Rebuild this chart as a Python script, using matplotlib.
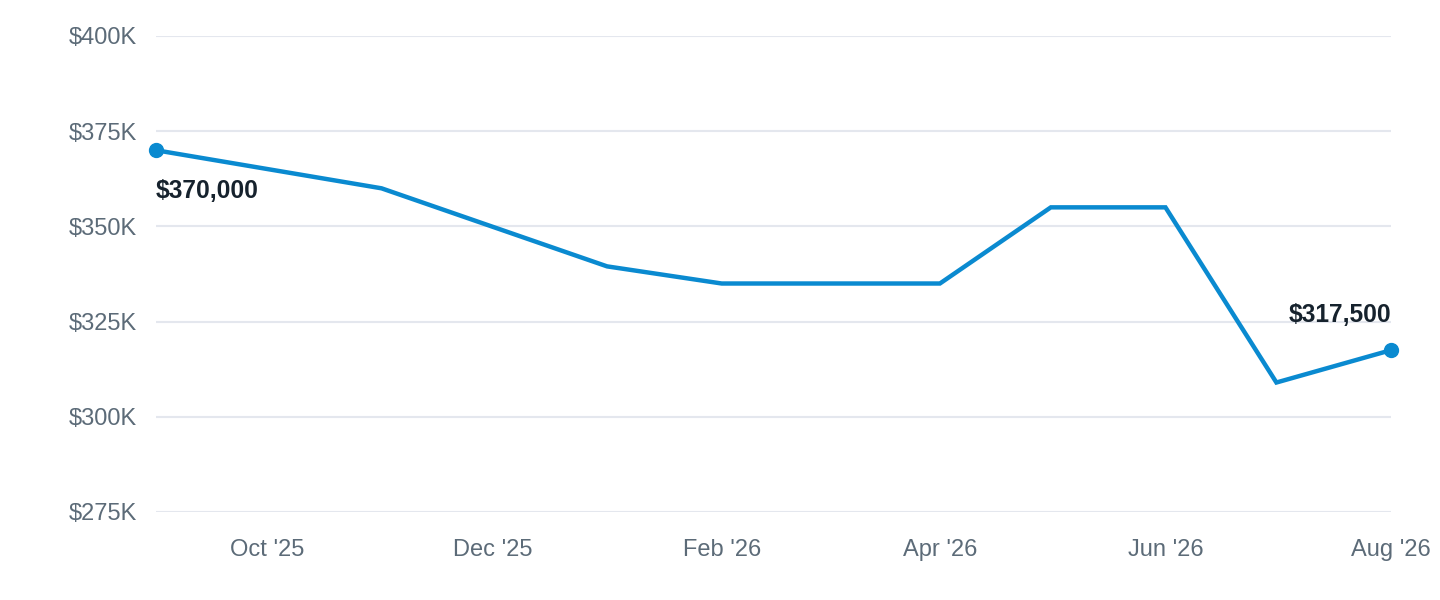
import numpy as np
import matplotlib
matplotlib.use("Agg")
import matplotlib.pyplot as plt
import matplotlib.dates as mdates
from datetime import date

plt.rcParams['font.family'] = ['Liberation Sans', 'DejaVu Sans']

# Data
months = [date(2025, 9, 1), date(2025, 11, 1), date(2026, 1, 1), date(2026, 2, 1),
          date(2026, 4, 1), date(2026, 5, 1), date(2026, 6, 1), date(2026, 7, 1),
          date(2026, 8, 1)]
prices = [370000, 360000, 339500, 335000, 335000, 355000, 355000, 309000, 317500]

tick_dates = [date(2025, 10, 1), date(2025, 12, 1), date(2026, 2, 1),
              date(2026, 4, 1), date(2026, 6, 1), date(2026, 8, 1)]
tick_labels = ["Oct '25", "Dec '25", "Feb '26", "Apr '26", "Jun '26", "Aug '26"]
y_ticks = [275000, 300000, 325000, 350000, 375000, 400000]

line_col = '#0a8ad0'
grid_col = '#e4e7ee'
tick_col = '#5c6b78'
label_col = '#16222d'

fig = plt.figure(figsize=(14.4, 6), dpi=100)
ax = fig.add_axes([0.1083, 0.1467, 0.8577, 0.7933])

x = mdates.date2num(months)
ax.plot(x, prices, color=line_col, lw=3.2, solid_joinstyle='miter', zorder=3)
ax.plot([x[0], x[-1]], [prices[0], prices[-1]], 'o', color=line_col, ms=10,
        zorder=4, clip_on=False)

# end labels
ax.annotate(f"${prices[0]:,}", (x[0], prices[0]), xytext=(0, -29),
            textcoords='offset points', ha='left', va='center',
            fontsize=17.7, fontweight='bold', color=label_col)
ax.annotate(f"${prices[-1]:,}", (x[-1], prices[-1]), xytext=(0, 25.5),
            textcoords='offset points', ha='right', va='center',
            fontsize=17.7, fontweight='bold', color=label_col)

ax.set_xlim(x[0], x[-1])
ax.set_ylim(y_ticks[0], y_ticks[-1])
ax.set_xticks(mdates.date2num(tick_dates))
ax.set_xticklabels(tick_labels)
ax.set_yticks(y_ticks)
ax.set_yticklabels([f"${v // 1000}K" for v in y_ticks])

ax.grid(axis='y', color=grid_col, lw=1.5)
ax.set_axisbelow(True)
for s in ax.spines.values():
    s.set_visible(False)
ax.tick_params(axis='both', length=0, labelsize=17, colors=tick_col)
ax.tick_params(axis='y', pad=14)
ax.tick_params(axis='x', pad=19.5)

fig.savefig('out.png', dpi=100, facecolor='white')
